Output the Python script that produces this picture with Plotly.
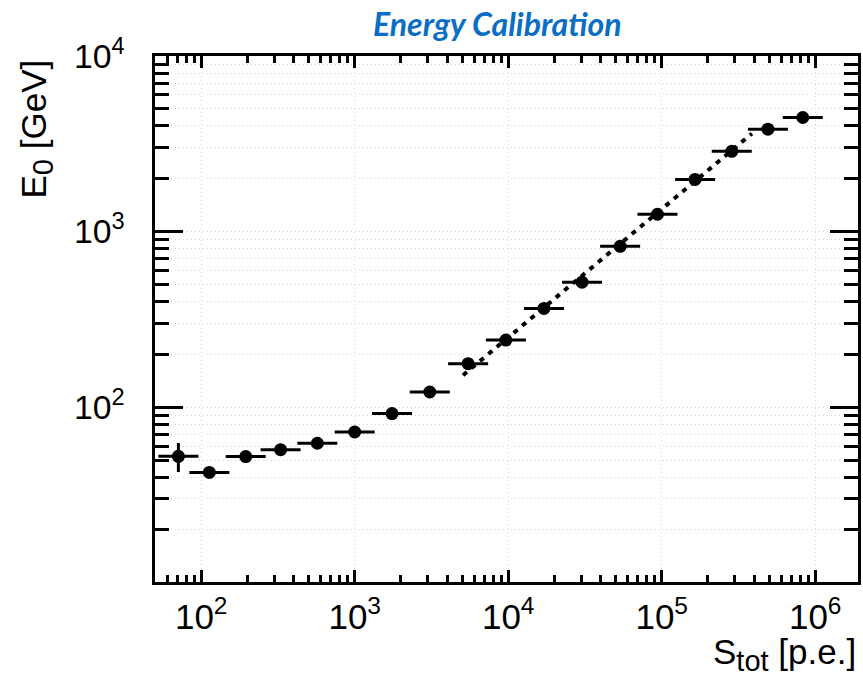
import math
import plotly.graph_objects as go

# ---- data ----
s_tot = [71, 113, 195, 329, 571, 1000, 1750, 3085, 5480, 9660, 17100, 30270,
         53600, 93800, 165000, 286000, 492000, 830000]
s_lo = [52.6, 83.7, 144.4, 243.7, 423, 741, 1296, 2285, 4059, 7156, 12667, 22422,
        39704, 69481, 122222, 211852, 364444, 614815]
s_hi = [95.9, 152.6, 263, 444, 771, 1350, 2363, 4165, 7398, 13041, 23085, 40865,
        72360, 126630, 222750, 386100, 664200, 1120500]
e0 = [52.5, 42.5, 52.3, 57.3, 62.3, 72.2, 92, 122, 177, 241, 365, 515,
      824, 1255, 1983, 2866, 3828, 4463]
e0_err_up = [10.0, 2.5, 0, 0, 0, 0, 0, 0, 0, 0, 0, 0, 0, 0, 0, 0, 0, 0]
e0_err_dn = [9.8, 2.5, 0, 0, 0, 0, 0, 0, 0, 0, 0, 0, 0, 0, 0, 0, 0, 0]

fit_x = [5080, 387000]
fit_y = [152, 3615]

x_range = [50, 1.9e6]
y_range = [10.1, 1e4]

err_plus = [h - c for h, c in zip(s_hi, s_tot)]
err_minus = [c - l for c, l in zip(s_tot, s_lo)]

FONT = "Liberation Sans, Arial, Helvetica, sans-serif"

fig = go.Figure()

fig.add_trace(go.Scatter(
    x=fit_x, y=fit_y, mode="lines",
    line=dict(color="black", width=4, dash="5px,6px"),
    hoverinfo="skip", showlegend=False))

fig.add_trace(go.Scatter(
    x=s_tot, y=e0, mode="markers",
    marker=dict(color="black", size=13, line=dict(width=0)),
    error_x=dict(type="data", symmetric=False, array=err_plus, arrayminus=err_minus,
                 color="black", thickness=3, width=0),
    error_y=dict(type="data", symmetric=False, array=e0_err_up, arrayminus=e0_err_dn,
                 color="black", thickness=3, width=0),
    showlegend=False))

grid_col = "#d6d6d6"
grid_dash = "1px,3px"

fig.update_xaxes(
    type="log", range=[math.log10(x_range[0]), math.log10(x_range[1])],
    dtick=1, exponentformat="power", showexponent="all",
    ticks="inside", ticklen=12, tickwidth=3, tickcolor="black",
    showline=True, linewidth=3, linecolor="black", mirror="allticks",
    showgrid=True, gridcolor=grid_col, gridwidth=1, griddash=grid_dash,
    zeroline=False, automargin=False,
    tickfont=dict(family=FONT, size=28, color="black"),
    ticklabelstandoff=3,
    minor=dict(dtick="D1", ticks="inside", ticklen=7, tickwidth=3, tickcolor="black",
               showgrid=False),
)
fig.update_yaxes(
    type="log", range=[math.log10(y_range[0]), math.log10(y_range[1])],
    dtick=1, exponentformat="power", showexponent="all",
    ticks="inside", ticklen=28, tickwidth=3, tickcolor="black",
    showline=True, linewidth=3, linecolor="black", mirror="allticks",
    showgrid=True, gridcolor=grid_col, gridwidth=1, griddash=grid_dash,
    zeroline=False, automargin=False,
    tickfont=dict(family=FONT, size=27, color="black"),
    ticklabelstandoff=22,
    minor=dict(dtick="D1", ticks="inside", ticklen=14, tickwidth=3, tickcolor="black",
               showgrid=True, gridcolor=grid_col, gridwidth=1, griddash=grid_dash),
)

# page body margin is removed below, so figure pixels == page pixels
W, H = 863, 677
L, T = 155, 56
R = W - 858
B = H - 582
pw, ph = W - L - R, H - T - B

def px(xp):
    return (xp - L) / pw

def py(yp):
    return (H - B - yp) / ph

fig.update_layout(
    width=W, height=H,
    margin=dict(l=L, r=R, t=T, b=B),
    paper_bgcolor="white", plot_bgcolor="white",
    font=dict(family=FONT, color="black"),
    annotations=[
        dict(text="<b><i>Energy Calibration</i></b>", xref="paper", yref="paper",
             x=px(497), y=py(23), xanchor="center", yanchor="middle", showarrow=False,
             font=dict(family="Lato, Open Sans, sans-serif", size=32, color="#0a6ec4")),
        dict(text="E<sub><span style='font-size:29px'>0</span></sub> [GeV]",
             xref="paper", yref="paper",
             x=px(36), y=py(57), xanchor="center", yanchor="top", textangle=-90,
             showarrow=False, font=dict(family=FONT, size=35, color="black")),
        dict(text="S<sub><span style='font-size:29px'>tot</span></sub> [p.e.]",
             xref="paper", yref="paper",
             x=px(858), y=py(654), xanchor="right", yanchor="middle",
             showarrow=False, font=dict(family=FONT, size=35, color="black")),
    ],
)

fig.write_html("out.html",
               config={"displayModeBar": False},
               post_script="document.body.style.margin='0px';"
                           "document.body.style.overflow='hidden';")
